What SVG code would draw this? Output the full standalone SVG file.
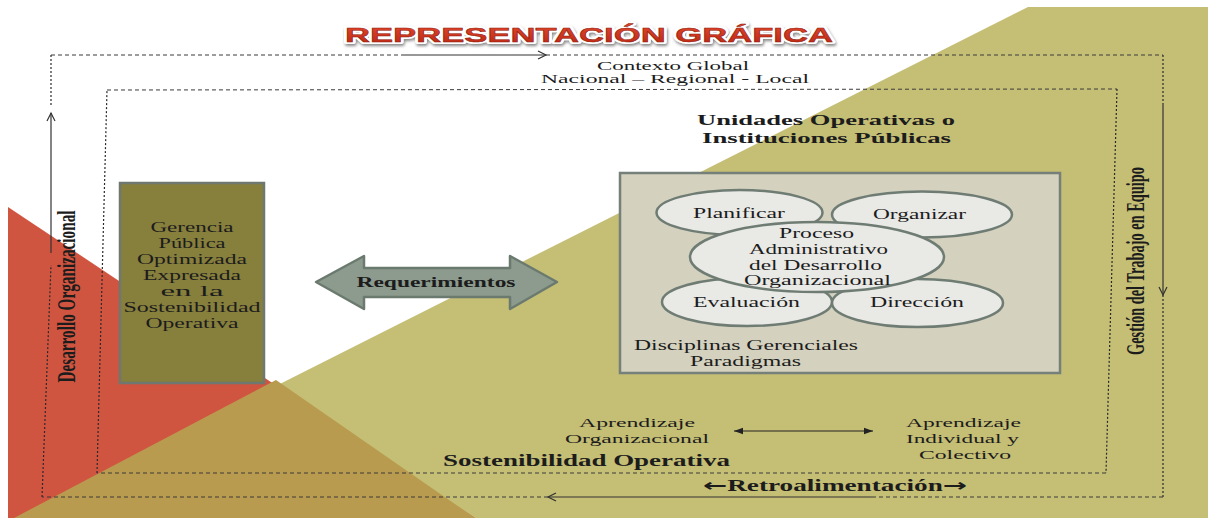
<svg xmlns="http://www.w3.org/2000/svg" width="1208" height="518" viewBox="0 0 1208 518">
<defs>
<style>
.sf{font-family:"Liberation Serif","Times New Roman",serif;fill:#1c1c1c;}
.b{font-weight:bold;}
.dh{fill:none;stroke:#3a3a3a;stroke-width:1;stroke-dasharray:4 3;}
.dv{fill:none;stroke:#2a2a2a;stroke-width:1.2;stroke-dasharray:2 2;}
.sol{fill:none;stroke:#333;stroke-width:1.2;}
.ell{fill:#E9E9E6;stroke:#6F7C74;stroke-width:2.5;}
.arr{font-family:"DejaVu Sans",sans-serif;font-weight:bold;}
</style>
<marker id="open" markerWidth="12" markerHeight="12" refX="9" refY="5" orient="auto" markerUnits="userSpaceOnUse">
<path d="M1,1 L9,5 L1,9" fill="none" stroke="#333" stroke-width="1.2"/>
</marker>
<marker id="fill" markerWidth="10" markerHeight="8" refX="9" refY="4" orient="auto-start-reverse" markerUnits="userSpaceOnUse">
<path d="M0,0.8 L9,4 L0,7.2 Z" fill="#222"/>
</marker>
<linearGradient id="tg" x1="0" y1="0" x2="0" y2="1">
<stop offset="0" stop-color="#E4482D"/>
<stop offset="1" stop-color="#B92714"/>
</linearGradient>
<filter id="sh" x="-5%" y="-40%" width="110%" height="180%">
<feDropShadow dx="1" dy="2" stdDeviation="1.5" flood-color="#555" flood-opacity="0.7"/>
</filter>
</defs>

<!-- background shapes -->
<rect x="0" y="0" width="1208" height="518" fill="#ffffff"/>
<polygon points="1028,7 1208,7 1208,518 14,518" fill="#C5BE75"/>
<polygon points="8,207 8,518 475,518" fill="#D05540"/>
<polygon points="276,380 475,518 14,518" fill="#B99B4F"/>

<!-- title -->
<g id="title">
<text x="589" y="42" text-anchor="middle" font-family="'Liberation Sans',Arial,sans-serif" font-weight="bold" font-size="21" textLength="488" lengthAdjust="spacingAndGlyphs" fill="#fff" stroke="#fff" stroke-width="4" stroke-linejoin="round" filter="url(#sh)">REPRESENTACIÓN GRÁFICA</text>
<text x="589" y="42" text-anchor="middle" font-family="'Liberation Sans',Arial,sans-serif" font-weight="bold" font-size="21" textLength="488" lengthAdjust="spacingAndGlyphs" fill="url(#tg)" stroke="#8E1C0E" stroke-width="0.5">REPRESENTACIÓN GRÁFICA</text>
</g>

<!-- connectors / frames -->
<g id="connectors">
<!-- outer frame -->
<line class="dh" x1="51" y1="55" x2="403" y2="55"/>
<line class="sol" x1="403" y1="55" x2="546" y2="55" marker-end="url(#open)"/>
<line class="dh" x1="546" y1="55" x2="1163" y2="55"/>
<line class="dv" x1="1163" y1="55" x2="1163" y2="104"/>
<line class="sol" x1="1163" y1="104" x2="1163" y2="295" marker-end="url(#open)"/>
<line class="dv" x1="1163" y1="295" x2="1163" y2="497"/>
<line class="dh" x1="1163" y1="497" x2="873" y2="497"/>
<line class="sol" x1="873" y1="497" x2="548" y2="497" marker-end="url(#open)"/>
<line class="dh" x1="548" y1="497" x2="42" y2="497"/>
<line class="dv" x1="42" y1="497" x2="51" y2="265"/>
<line class="sol" x1="51" y1="253" x2="51" y2="113" marker-end="url(#open)"/>
<line class="dv" x1="51" y1="105" x2="51" y2="55"/>
<!-- inner frame -->
<line class="dh" x1="107" y1="90" x2="1117" y2="89"/>
<line class="dv" x1="1117" y1="89" x2="1106" y2="473"/>
<line class="dh" x1="1106" y1="473" x2="97" y2="473"/>
<line class="dv" x1="97" y1="473" x2="107" y2="90"/>
<!-- evaluation to disciplinas -->
<line class="sol" x1="793" y1="327" x2="762" y2="341" marker-end="url(#open)" stroke-width="1"/>
<!-- aprendizaje double arrow -->
<line x1="734" y1="431" x2="873" y2="431" stroke="#222" stroke-width="1.2" marker-start="url(#fill)" marker-end="url(#fill)"/>
</g>

<!-- labels on frame -->
<g id="contexto">
<text class="sf" x="673" y="69.5" text-anchor="middle" font-size="12.5" textLength="152" lengthAdjust="spacingAndGlyphs">Contexto Global</text>
<text class="sf" x="675" y="83" text-anchor="middle" font-size="12.5" textLength="268" lengthAdjust="spacingAndGlyphs">Nacional – Regional - Local</text>
</g>
<g id="desarrollo-org">
<text class="sf b" transform="translate(75,296.5) rotate(-90)" text-anchor="middle" font-size="25" textLength="172" lengthAdjust="spacingAndGlyphs">Desarrollo Organizacional</text>
</g>
<g id="gestion">
<text class="sf b" transform="translate(1144,261) rotate(-90)" text-anchor="middle" font-size="25" textLength="188" lengthAdjust="spacingAndGlyphs">Gestión del Trabajo en Equipo</text>
</g>
<g id="unidades">
<text class="sf b" x="826" y="125" text-anchor="middle" font-size="15.5" textLength="258" lengthAdjust="spacingAndGlyphs">Unidades Operativas o</text>
<text class="sf b" x="826.5" y="143" text-anchor="middle" font-size="15.5" textLength="249" lengthAdjust="spacingAndGlyphs">Instituciones Públicas</text>
</g>

<!-- Gerencia box -->
<g id="gerencia">
<rect x="120" y="183" width="144" height="200" fill="#877F3C" stroke="#6E7870" stroke-width="2.5"/>
<text class="sf" x="192" y="232" text-anchor="middle" font-size="15" textLength="83" lengthAdjust="spacingAndGlyphs">Gerencia</text>
<text class="sf" x="192" y="248" text-anchor="middle" font-size="15" textLength="67" lengthAdjust="spacingAndGlyphs">Pública</text>
<text class="sf" x="192" y="264" text-anchor="middle" font-size="15" textLength="110" lengthAdjust="spacingAndGlyphs">Optimizada</text>
<text class="sf" x="192" y="280" text-anchor="middle" font-size="15" textLength="98" lengthAdjust="spacingAndGlyphs">Expresada</text>
<text class="sf" x="192" y="296" text-anchor="middle" font-size="15" textLength="63" lengthAdjust="spacingAndGlyphs">en la</text>
<text class="sf" x="192" y="312" text-anchor="middle" font-size="15" textLength="137" lengthAdjust="spacingAndGlyphs">Sostenibilidad</text>
<text class="sf" x="192" y="328" text-anchor="middle" font-size="15" textLength="93" lengthAdjust="spacingAndGlyphs">Operativa</text>
</g>

<!-- Requerimientos double arrow -->
<g id="requerimientos">
<polygon points="316,282 364,256 364,268 510,268 510,256 557,282 510,309 510,297 364,297 364,309" fill="#8C9B8E" stroke="#6B7A6E" stroke-width="2.5" stroke-linejoin="round"/>
<text class="sf b" x="436" y="287" text-anchor="middle" font-size="15" textLength="159" lengthAdjust="spacingAndGlyphs">Requerimientos</text>
</g>

<!-- Proceso box -->
<g id="proceso-box">
<rect x="620" y="173" width="440" height="200" fill="#D4D1BE" stroke="#76807A" stroke-width="2.5"/>
</g>
<g id="planificar">
<ellipse class="ell" cx="739.5" cy="212.5" rx="83" ry="22.5"/>
<text class="sf" x="739" y="218" text-anchor="middle" font-size="15" textLength="92" lengthAdjust="spacingAndGlyphs">Planificar</text>
</g>
<g id="organizar">
<ellipse class="ell" cx="922" cy="214.5" rx="90" ry="23"/>
<text class="sf" x="919.5" y="219" text-anchor="middle" font-size="15" textLength="93" lengthAdjust="spacingAndGlyphs">Organizar</text>
</g>
<g id="evaluacion">
<ellipse class="ell" cx="747" cy="302" rx="85" ry="24"/>
<text class="sf" x="746.5" y="307" text-anchor="middle" font-size="15" textLength="107" lengthAdjust="spacingAndGlyphs">Evaluación</text>
</g>
<g id="direccion">
<ellipse class="ell" cx="917.5" cy="303" rx="85.5" ry="24"/>
<text class="sf" x="917" y="307" text-anchor="middle" font-size="15" textLength="94" lengthAdjust="spacingAndGlyphs">Dirección</text>
</g>
<g id="proceso">
<ellipse class="ell" cx="817" cy="257" rx="127" ry="35"/>
<text class="sf" x="816.5" y="238" text-anchor="middle" font-size="15" textLength="75" lengthAdjust="spacingAndGlyphs">Proceso</text>
<text class="sf" x="818.5" y="254" text-anchor="middle" font-size="15" textLength="139" lengthAdjust="spacingAndGlyphs">Administrativo</text>
<text class="sf" x="815.5" y="270" text-anchor="middle" font-size="15" textLength="133" lengthAdjust="spacingAndGlyphs">del Desarrollo</text>
<text class="sf" x="817.5" y="285" text-anchor="middle" font-size="15" textLength="147" lengthAdjust="spacingAndGlyphs">Organizacional</text>
</g>
<g id="disciplinas">
<text class="sf" x="746" y="350" text-anchor="middle" font-size="14.5" textLength="224" lengthAdjust="spacingAndGlyphs">Disciplinas Gerenciales</text>
<text class="sf" x="745.5" y="366" text-anchor="middle" font-size="14.5" textLength="111" lengthAdjust="spacingAndGlyphs">Paradigmas</text>
</g>

<!-- bottom -->
<g id="aprendizaje-org">
<text class="sf" x="637" y="427" text-anchor="middle" font-size="13.5" textLength="116" lengthAdjust="spacingAndGlyphs">Aprendizaje</text>
<text class="sf" x="637" y="443" text-anchor="middle" font-size="13.5" textLength="144" lengthAdjust="spacingAndGlyphs">Organizacional</text>
</g>
<g id="aprendizaje-ind">
<text class="sf" x="963.5" y="427" text-anchor="middle" font-size="13.5" textLength="115" lengthAdjust="spacingAndGlyphs">Aprendizaje</text>
<text class="sf" x="962.5" y="443" text-anchor="middle" font-size="13.5" textLength="113" lengthAdjust="spacingAndGlyphs">Individual y</text>
<text class="sf" x="965" y="459" text-anchor="middle" font-size="13.5" textLength="92" lengthAdjust="spacingAndGlyphs">Colectivo</text>
</g>
<g id="sostenibilidad">
<text class="sf b" x="586.5" y="466" text-anchor="middle" font-size="16" textLength="287" lengthAdjust="spacingAndGlyphs">Sostenibilidad Operativa</text>
</g>
<g id="retroalimentacion">
<text class="sf b" x="835" y="491" text-anchor="middle" font-size="16" textLength="264" lengthAdjust="spacingAndGlyphs"><tspan class="arr" font-size="17">←</tspan>Retroalimentación<tspan class="arr" font-size="17">→</tspan></text>
</g>
</svg>
